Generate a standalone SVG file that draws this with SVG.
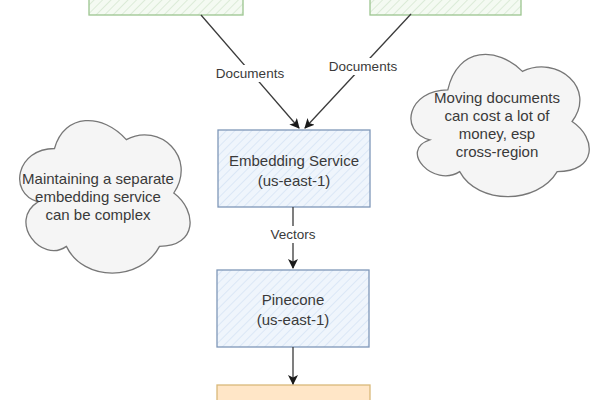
<svg xmlns="http://www.w3.org/2000/svg" width="600" height="400" viewBox="0 0 600 400">
<defs>
<pattern id="hg" width="6" height="6" patternUnits="userSpaceOnUse" patternTransform="rotate(45)"><rect width="6" height="6" fill="#f4faf2"/><line x1="0" y1="0" x2="0" y2="6" stroke="#dcebd8" stroke-width="2"/></pattern>
<pattern id="hb" width="6" height="6" patternUnits="userSpaceOnUse" patternTransform="rotate(45)"><rect width="6" height="6" fill="#eff5fc"/><line x1="0" y1="0" x2="0" y2="6" stroke="#dbe7f6" stroke-width="2"/></pattern>
<marker id="ah" viewBox="0 0 10 10" refX="9" refY="5" markerWidth="10" markerHeight="10" markerUnits="userSpaceOnUse" orient="auto"><path d="M0,0 L10,5 L0,10 L2.5,5 Z" fill="#1a1a1a"/></marker>
</defs>
<style>
.green{fill:url(#hg);stroke:#9cc590;stroke-width:1.3}
.blue{fill:url(#hb);stroke:#7f97b8;stroke-width:1.3}
.orange{fill:#ffe6c7;stroke:#d9b97a;stroke-width:1.3}
.cloud{fill:#f5f5f5;stroke:#777;stroke-width:1.3}
.t{font-family:"Liberation Sans",Arial,sans-serif;font-size:15px;fill:#3a3a3a;text-anchor:middle}
.lbl{font-family:"Liberation Sans",Arial,sans-serif;font-size:13.5px;fill:#3a3a3a;text-anchor:middle}
.edge{stroke:#3a3a3a;stroke-width:1.3;fill:none}
</style>
<rect width="600" height="400" fill="#ffffff"/>
<g id="source-left"><rect class="green" x="89" y="-60" width="154" height="75"/></g>
<g id="source-right"><rect class="green" x="370" y="-60" width="151" height="75"/></g>
<g id="embedding-service"><rect class="blue" x="218" y="130" width="152" height="77"/><text class="t" x="294" y="166">Embedding Service</text><text class="t" x="294" y="186">(us-east-1)</text></g>
<g id="pinecone"><rect class="blue" x="217" y="270" width="152" height="77"/><text class="t" x="293" y="305">Pinecone</text><text class="t" x="293" y="325">(us-east-1)</text></g>
<g id="output"><rect class="orange" x="217" y="385" width="153" height="40"/></g>
<g id="note-left"><path class="cloud" d="M54.5,148.5 C16.5,148.5 7.5,193 37.9,201.9 C7.5,221.5 41.7,264.2 66.4,246.4 C83.5,282 140.5,282 159.5,246.4 C197.5,246.4 197.5,210.8 173.8,193 C197.5,157.4 159.5,121.8 126.3,139.6 C102.5,112.9 64.5,112.9 54.5,148.5 Z"/><text class="t" x="98" y="184">Maintaining a separate</text><text class="t" x="98" y="202">embedding service</text><text class="t" x="98" y="220">can be complex</text></g>
<g id="note-right"><path class="cloud" d="M447.8,89.8 C408,89.8 398,131.5 429.8,139.9 C398,150.2 433.8,188.3 459.7,171.6 C477.6,204.9 537.3,204.9 557.2,171.6 C597,171.6 597,138.2 572.1,121.5 C597,88.1 557.2,54.7 522.4,71.4 C497.5,46.4 457.7,46.4 447.8,89.8 Z"/><text class="t" x="497" y="103">Moving documents</text><text class="t" x="497" y="121">can cost a lot of</text><text class="t" x="497" y="139">money, esp</text><text class="t" x="497" y="157">cross-region</text></g>
<g id="connectors">
<path class="edge" d="M201,15 L299,128" marker-end="url(#ah)"/>
<path class="edge" d="M411,14 L305,128" marker-end="url(#ah)"/>
<path class="edge" d="M293,207 L293,268" marker-end="url(#ah)"/>
<path class="edge" d="M293,347 L293,384" marker-end="url(#ah)"/>
<rect x="214" y="65" width="72" height="17" fill="#fff"/>
<text class="lbl" x="250" y="78">Documents</text>
<rect x="326" y="58" width="73" height="17" fill="#fff"/>
<text class="lbl" x="363" y="71">Documents</text>
<rect x="266" y="226" width="54" height="17" fill="#fff"/>
<text class="lbl" x="293" y="239">Vectors</text>
</g>
</svg>
